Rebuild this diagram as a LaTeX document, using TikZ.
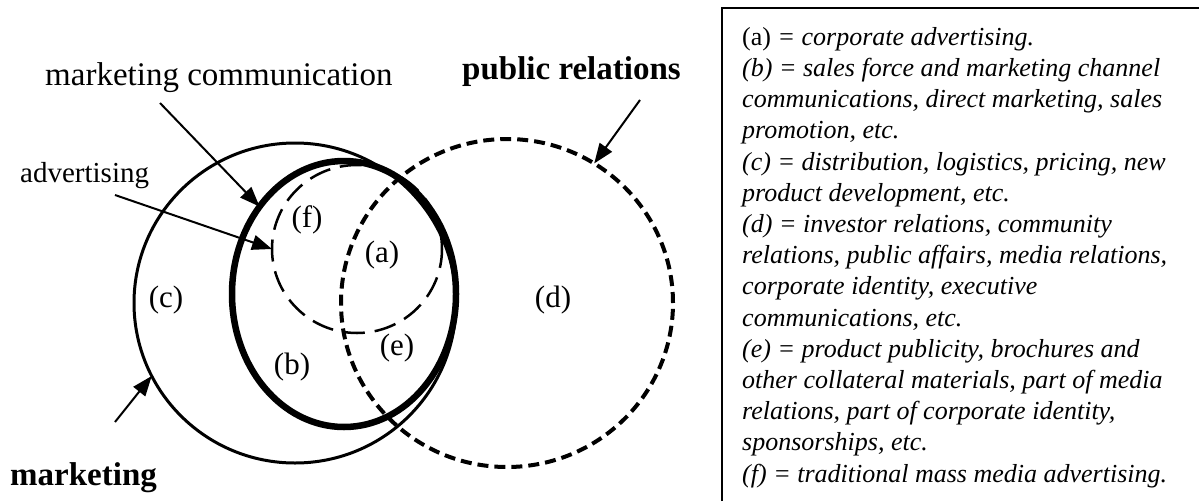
\documentclass[tikz,border=0pt]{standalone}
\usepackage{fontspec}
\setmainfont{Liberation Serif}
\usetikzlibrary{arrows.meta,shapes.geometric}
\begin{document}
\begin{tikzpicture}[x=1pt,y=-1pt,
  ring/.style={ellipse, inner sep=0pt, outer sep=0pt},
  rl/.style={font=\fontsize{31}{35}\selectfont, inner sep=0pt},
  tl/.style={font=\fontsize{33}{37}\selectfont, inner sep=0pt},
  ts/.style={font=\fontsize{29}{33}\selectfont, inner sep=0pt},
  tb/.style={font=\fontsize{33}{37}\selectfont\bfseries, inner sep=0pt},
  legend/.style={font=\fontsize{26}{31.2}\selectfont\itshape, align=left, inner sep=0pt},
  pointer/.style={line width=2pt, -{Triangle[length=20pt,width=15pt]}},
  boxline/.style={line width=2pt}
]
\useasboundingbox (0,0) rectangle (1199,501);
% circles
\node[ring, draw, line width=3pt, minimum width=322pt, minimum height=320pt] (mk) at (295,303) {};
\node[ring, draw, line width=6.5pt, minimum width=224pt, minimum height=266pt] (mc) at (344,294) {};
\node[ring, draw, line width=2.5pt, dash pattern=on 22pt off 10pt, minimum width=170pt, minimum height=168pt] (ad) at (357,249) {};
\node[ring, draw, line width=4pt, dash pattern=on 11pt off 6pt, minimum width=332pt, minimum height=328pt] (pr) at (507,303) {};
% region labels
\node[rl] (la) at (382,255) {(a)};
\node[rl] (lb) at (292,367) {(b)};
\node[rl] (lc) at (166,300) {(c)};
\node[rl] (ld) at (553,300) {(d)};
\node[rl] (le) at (397,348) {(e)};
\node[rl] (lf) at (307,220) {(f)};
% titles
\node[tl, anchor=west] (tmc) at (45,78) {marketing communication};
\node[tb, anchor=west] (tpr) at (462,72) {public relations};
\node[ts, anchor=west] (tad) at (20,176) {advertising};
\node[tb, anchor=west] (tmk) at (10,478) {marketing};
% arrow tails
\coordinate (smc) at (160,103);
\coordinate (sad) at (115,195);
\coordinate (spr) at (640,100);
\coordinate (smk) at (115,422);
\draw[pointer] (smc) -- (mc.134);
\draw[pointer] (sad) -- (ad.west);
\draw[pointer] (spr) -- (pr.58);
\draw[pointer] (smk) -- (mk.207);
% legend box
\draw[boxline] (722,501) -- (722,8) -- (1199,8);
\node[legend, anchor=north west] (leg) at (742,27) {%
{\upshape(a)} = corporate advertising.\\
(b) = sales force and marketing channel\\
communications, direct marketing, sales\\
promotion, etc.\\
(c) = distribution, logistics, pricing, new\\
product development, etc.\\
(d) = investor relations, community\\
relations, public affairs, media relations,\\
corporate identity, executive\\
communications, etc.\\
(e) = product publicity, brochures and\\
other collateral materials, part of media\\
relations, part of corporate identity,\\
sponsorships, etc.\\
(f) = traditional mass media advertising.};
\end{tikzpicture}
\end{document}
